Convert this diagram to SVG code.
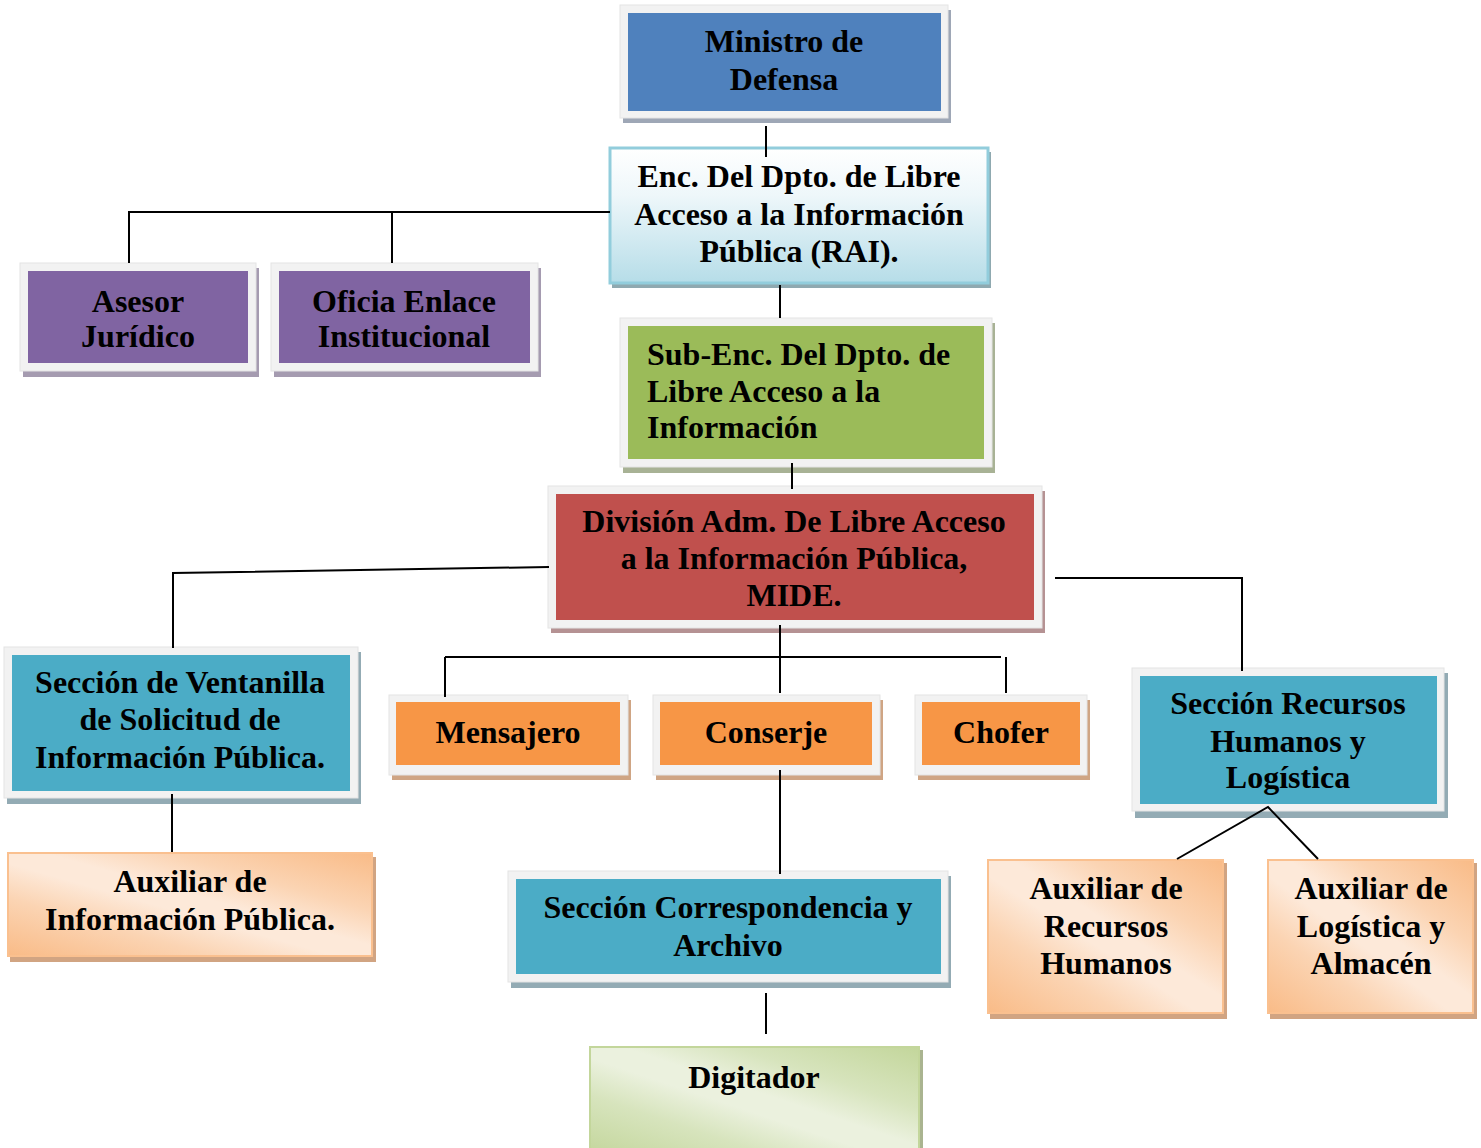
<svg xmlns="http://www.w3.org/2000/svg" width="1481" height="1148" viewBox="0 0 1481 1148">
<defs>
<style>
.frame{fill:#f2f2f2;stroke:#e4e4e4;stroke-width:1}
.t{font-family:"Liberation Serif","Times New Roman",serif;font-weight:bold;font-size:32px;fill:#000;text-anchor:middle}
.tl{text-anchor:start}
.c{stroke:#000;stroke-width:2;fill:none}
</style>
<linearGradient id="gEnc" x1="0" y1="0" x2="0" y2="1">
<stop offset="0" stop-color="#ffffff"/>
<stop offset="0.35" stop-color="#eef7fa"/>
<stop offset="1" stop-color="#b6dde8"/>
</linearGradient>
<linearGradient id="gPeach" x1="1" y1="0" x2="0" y2="1">
<stop offset="0" stop-color="#f9bb87"/>
<stop offset="0.28" stop-color="#fbd4b3"/>
<stop offset="0.45" stop-color="#fde9d9"/>
<stop offset="0.55" stop-color="#fde9d9"/>
<stop offset="0.72" stop-color="#fbd4b3"/>
<stop offset="1" stop-color="#f9bb87"/>
</linearGradient>
<linearGradient id="gGreen" x1="1" y1="0" x2="0" y2="1">
<stop offset="0" stop-color="#c3d69b"/>
<stop offset="0.28" stop-color="#d7e4bd"/>
<stop offset="0.45" stop-color="#ebf1de"/>
<stop offset="0.55" stop-color="#ebf1de"/>
<stop offset="0.72" stop-color="#d7e4bd"/>
<stop offset="1" stop-color="#c3d69b"/>
</linearGradient>
</defs>
<rect width="1481" height="1148" fill="#ffffff"/>

<g id="ministro">
<rect x="623" y="10" width="328" height="113" fill="#9ea7b6"/>
<rect class="frame" x="620" y="5" width="328" height="113"/>
<rect x="628" y="13" width="313" height="98" fill="#4f81bd"/>
<text class="t" x="784" y="52">Ministro de</text>
<text class="t" x="784" y="90">Defensa</text>
</g>

<g id="enc">
<rect x="612" y="152" width="379" height="136" fill="#8fa9b0"/>
<rect x="610" y="148" width="378" height="135" fill="url(#gEnc)" stroke="#92cddc" stroke-width="3"/>
<text class="t" x="799" y="187">Enc. Del Dpto. de Libre</text>
<text class="t" x="799" y="225">Acceso a la Información</text>
<text class="t" x="799" y="262">Pública (RAI).</text>
</g>

<g id="asesor">
<rect x="23" y="268" width="236" height="109" fill="#a59bb0"/>
<rect class="frame" x="20" y="263" width="236" height="108"/>
<rect x="28" y="271" width="220" height="92" fill="#8064a2"/>
<text class="t" x="138" y="312">Asesor</text>
<text class="t" x="138" y="347">Jurídico</text>
</g>

<g id="oficia">
<rect x="274" y="268" width="267" height="109" fill="#a59bb0"/>
<rect class="frame" x="271" y="263" width="267" height="108"/>
<rect x="279" y="271" width="251" height="92" fill="#8064a2"/>
<text class="t" x="404" y="312">Oficia Enlace</text>
<text class="t" x="404" y="347">Institucional</text>
</g>

<g id="subenc">
<rect x="623" y="323" width="372" height="150" fill="#a8b295"/>
<rect class="frame" x="620" y="318" width="372" height="149"/>
<rect x="628" y="326" width="356" height="133" fill="#9bbb59"/>
<text class="t tl" x="647" y="365">Sub-Enc. Del Dpto. de</text>
<text class="t tl" x="647" y="402">Libre Acceso a la</text>
<text class="t tl" x="647" y="438">Información</text>
</g>

<g id="division">
<rect x="551" y="491" width="494" height="142" fill="#b59293"/>
<rect class="frame" x="548" y="486" width="494" height="142"/>
<rect x="556" y="494" width="478" height="126" fill="#c0504d"/>
<text class="t" x="794" y="532">División Adm. De Libre Acceso</text>
<text class="t" x="794" y="569">a la Información Pública,</text>
<text class="t" x="794" y="606">MIDE.</text>
</g>

<g id="ventanilla">
<rect x="7" y="652" width="354" height="152" fill="#93abb4"/>
<rect class="frame" x="4" y="647" width="354" height="151"/>
<rect x="12" y="655" width="338" height="136" fill="#4bacc6"/>
<text class="t" x="180" y="693">Sección de Ventanilla</text>
<text class="t" x="180" y="730">de Solicitud de</text>
<text class="t" x="180" y="768">Información Pública.</text>
</g>

<g id="aux-info">
<rect x="10" y="857" width="366" height="105" fill="#d1a482"/>
<rect x="8" y="853" width="364" height="103" fill="url(#gPeach)" stroke="#fac08f" stroke-width="2"/>
<text class="t" x="190" y="892">Auxiliar de</text>
<text class="t" x="190" y="930">Información Pública.</text>
</g>

<g id="mensajero">
<rect x="392" y="700" width="239" height="80" fill="#cfa584"/>
<rect class="frame" x="389" y="695" width="239" height="80"/>
<rect x="396" y="702" width="224" height="63" fill="#f79646"/>
<text class="t" x="508" y="743">Mensajero</text>
</g>

<g id="conserje">
<rect x="656" y="700" width="227" height="80" fill="#cfa584"/>
<rect class="frame" x="653" y="695" width="227" height="80"/>
<rect x="660" y="702" width="212" height="63" fill="#f79646"/>
<text class="t" x="766" y="743">Conserje</text>
</g>

<g id="chofer">
<rect x="918" y="700" width="172" height="80" fill="#cfa584"/>
<rect class="frame" x="915" y="695" width="172" height="80"/>
<rect x="922" y="702" width="158" height="63" fill="#f79646"/>
<text class="t" x="1001" y="743">Chofer</text>
</g>

<g id="correspondencia">
<rect x="511" y="876" width="440" height="112" fill="#93abb4"/>
<rect class="frame" x="508" y="871" width="440" height="111"/>
<rect x="516" y="879" width="425" height="95" fill="#4bacc6"/>
<text class="t" x="728" y="918">Sección Correspondencia y</text>
<text class="t" x="728" y="956">Archivo</text>
</g>

<g id="digitador">
<rect x="592" y="1050" width="331" height="110" fill="#aab490"/>
<rect x="590" y="1047" width="329" height="110" fill="url(#gGreen)" stroke="#c3d69b" stroke-width="2"/>
<text class="t" x="754" y="1088">Digitador</text>
</g>

<g id="rrhh">
<rect x="1135" y="673" width="313" height="145" fill="#93abb4"/>
<rect class="frame" x="1132" y="668" width="312" height="143"/>
<rect x="1140" y="676" width="297" height="128" fill="#4bacc6"/>
<text class="t" x="1288" y="714">Sección Recursos</text>
<text class="t" x="1288" y="752">Humanos y</text>
<text class="t" x="1288" y="788">Logística</text>
</g>

<g id="aux-rrhh">
<rect x="990" y="863" width="237" height="156" fill="#d1a482"/>
<rect x="988" y="860" width="235" height="153" fill="url(#gPeach)" stroke="#fac08f" stroke-width="2"/>
<text class="t" x="1106" y="899">Auxiliar de</text>
<text class="t" x="1106" y="937">Recursos</text>
<text class="t" x="1106" y="974">Humanos</text>
</g>

<g id="aux-logistica">
<rect x="1270" y="863" width="207" height="156" fill="#d1a482"/>
<rect x="1268" y="860" width="205" height="153" fill="url(#gPeach)" stroke="#fac08f" stroke-width="2"/>
<text class="t" x="1371" y="899">Auxiliar de</text>
<text class="t" x="1371" y="937">Logística y</text>
<text class="t" x="1371" y="974">Almacén</text>
</g>

<g id="connectors">
<line class="c" x1="766" y1="126" x2="766" y2="157"/>
<polyline class="c" points="610,212 129,212 129,263"/>
<line class="c" x1="392" y1="212" x2="392" y2="263"/>
<line class="c" x1="780" y1="285" x2="780" y2="318"/>
<line class="c" x1="792" y1="463" x2="792" y2="489"/>
<polyline class="c" points="549,567 173,573 173,648"/>
<polyline class="c" points="1055,578 1242,578 1242,671"/>
<line class="c" x1="780" y1="625" x2="780" y2="693"/>
<line class="c" x1="445" y1="657" x2="1001" y2="657"/>
<line class="c" x1="445" y1="657" x2="445" y2="697"/>
<line class="c" x1="1006" y1="657" x2="1006" y2="693"/>
<line class="c" x1="172" y1="794" x2="172" y2="852"/>
<line class="c" x1="780" y1="770" x2="780" y2="874"/>
<line class="c" x1="766" y1="993" x2="766" y2="1034"/>
<polyline class="c" points="1177,859 1268,807 1318,859"/>
</g>
</svg>
